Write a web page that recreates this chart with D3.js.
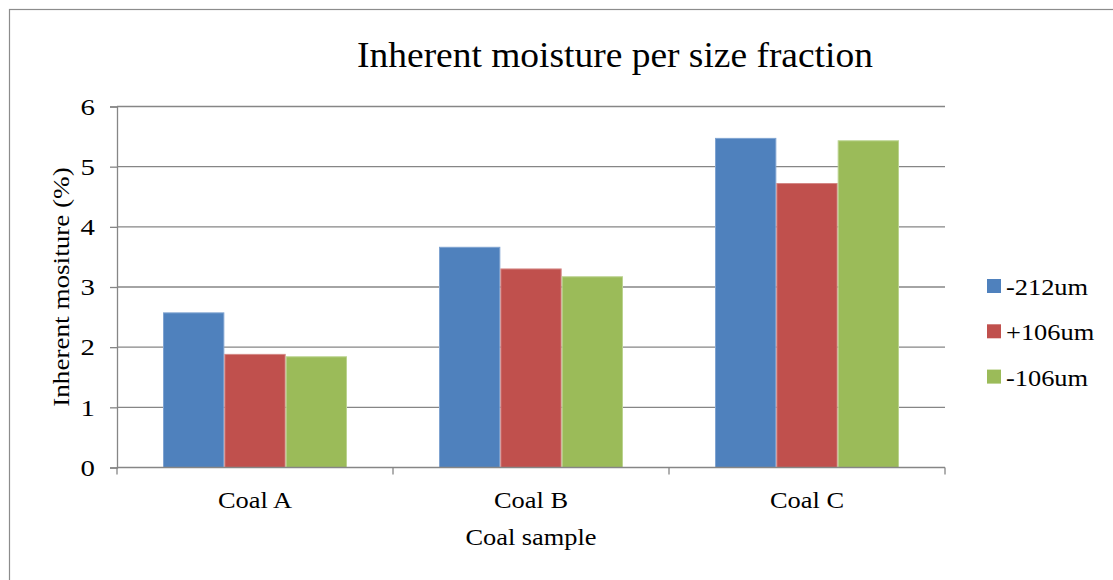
<!DOCTYPE html>
<html>
<head>
<meta charset="utf-8">
<script src="https://cdn.jsdelivr.net/npm/d3@7"></script>
<style>
  html, body { margin: 0; padding: 0; background: #fff; }
  svg { display: block; }
  text { font-family: "Liberation Serif", "Times New Roman", serif; fill: #000; }
</style>
</head>
<body>
<svg id="chart" width="1113" height="580"></svg>
<script>
// Inherent moisture (%) by coal sample and size fraction
const categories = ["Coal A", "Coal B", "Coal C"];
const seriesNames = ["-212um", "+106um", "-106um"];
const seriesColors = ["#4F81BD", "#C0504D", "#9BBB59"];
const seriesEdges = ["#7FA3D1", "#D48886", "#BBD38F"];
const minus212 = [2.57, 3.66, 5.47];
const plus106 = [1.88, 3.30, 4.72];
const minus106 = [1.84, 3.17, 5.43];
const yTicks = [0, 1, 2, 3, 4, 5, 6];

const seriesValues = [minus212, plus106, minus106];

const svg = d3.select("#chart");
const plot = { left: 117, right: 945, top: 106.5, bottom: 467.5 };
const labelSize = 24;

// outer chart frame
svg.append("rect")
  .attr("x", 9.5).attr("y", 9.5)
  .attr("width", 1120).attr("height", 600)
  .attr("fill", "none").attr("stroke", "#8c8c8c").attr("stroke-width", 1.2);

const x0 = d3.scaleBand().domain(categories).range([plot.left, plot.right]).paddingInner(0).paddingOuter(0);
const gapRatio = 1.5;
const barW = x0.bandwidth() / (seriesNames.length + gapRatio);
const x1 = d3.scaleBand().domain(seriesNames)
  .range([barW * gapRatio / 2, barW * gapRatio / 2 + barW * seriesNames.length]).padding(0);
const y = d3.scaleLinear().domain([0, 6]).range([plot.bottom, plot.top]);

// horizontal gridlines
svg.append("g").selectAll("line").data(yTicks.filter(t => t > 0)).join("line")
  .attr("x1", plot.left).attr("x2", plot.right)
  .attr("y1", d => y(d)).attr("y2", d => y(d))
  .attr("stroke", "#868686").attr("stroke-width", 1.3);

// bars
const groups = svg.append("g").selectAll("g").data(categories).join("g")
  .attr("transform", d => `translate(${x0(d)},0)`);
groups.selectAll("rect")
  .data((c, ci) => seriesNames.map((s, si) => ({ s, si, v: seriesValues[si][ci] })))
  .join("rect")
  .attr("x", d => x1(d.s) + 0.5)
  .attr("width", x1.bandwidth() - 1)
  .attr("y", d => y(d.v))
  .attr("height", d => y(0) - y(d.v))
  .attr("fill", d => seriesColors[d.si])
  .attr("stroke", d => seriesEdges[d.si])
  .attr("stroke-width", 1);

// y axis
const yAxis = svg.append("g").attr("transform", `translate(${plot.left},0)`)
  .call(d3.axisLeft(y).tickValues(yTicks).tickSize(7).tickPadding(15).tickFormat(d3.format("d")));
yAxis.attr("font-family", null).attr("font-size", null);
yAxis.select(".domain").attr("stroke", "#868686").attr("stroke-width", 1.3);
yAxis.selectAll(".tick line").attr("stroke", "#868686").attr("stroke-width", 1.3);
yAxis.selectAll(".tick text").attr("font-size", labelSize).attr("fill", "#000")
  .attr("class", "tick-label");

// x axis with ticks at category boundaries
const xAxisG = svg.append("g");
xAxisG.append("line")
  .attr("x1", plot.left).attr("x2", plot.right)
  .attr("y1", plot.bottom).attr("y2", plot.bottom)
  .attr("stroke", "#868686").attr("stroke-width", 1.3);
const boundaries = categories.map(c => x0(c)).concat([x0(categories[categories.length - 1]) + x0.bandwidth()]);
xAxisG.selectAll("line.tk").data(boundaries).join("line").attr("class", "tk")
  .attr("x1", d => d).attr("x2", d => d)
  .attr("y1", plot.bottom).attr("y2", plot.bottom + 7)
  .attr("stroke", "#868686").attr("stroke-width", 1.3);
xAxisG.selectAll("text").data(categories).join("text")
  .attr("x", d => x0(d) + x0.bandwidth() / 2)
  .attr("y", 508)
  .attr("text-anchor", "middle")
  .attr("font-size", labelSize)
  .text(d => d);

// titles
svg.append("text")
  .attr("class", "chart-title")
  .attr("x", 615).attr("y", 67)
  .attr("text-anchor", "middle").attr("font-size", 35)
  .text("Inherent moisture per size fraction");

svg.append("text")
  .attr("x", 531).attr("y", 545)
  .attr("text-anchor", "middle").attr("font-size", labelSize)
  .text("Coal sample");

svg.append("text")
  .attr("class", "axis-title-y")
  .attr("transform", `translate(69,${(plot.top + plot.bottom) / 2}) rotate(-90)`)
  .attr("text-anchor", "middle").attr("font-size", labelSize)
  .text("Inherent mositure (%)");

// legend
const legend = svg.append("g").attr("transform", "translate(987,279)");
const items = legend.selectAll("g").data(seriesNames).join("g")
  .attr("transform", (d, i) => `translate(0,${i * 45.3})`);
items.append("rect")
  .attr("width", 14).attr("height", 14)
  .attr("fill", (d, i) => seriesColors[i]);
items.append("text")
  .attr("x", 19).attr("y", 16)
  .attr("font-size", labelSize)
  .text(d => d);

// widen the serif glyphs slightly (wide-set text)
svg.selectAll("text").each(function () {
  let f = 1.1;
  if (this.classList.contains("chart-title")) f = 1.07;
  else if (this.classList.contains("axis-title-y")) f = 1.13;
  else if (this.classList.contains("tick-label")) f = 1.2;
  const len = this.getComputedTextLength();
  this.setAttribute("textLength", (len * f).toFixed(1));
  this.setAttribute("lengthAdjust", "spacingAndGlyphs");
});
</script>
</body>
</html>
